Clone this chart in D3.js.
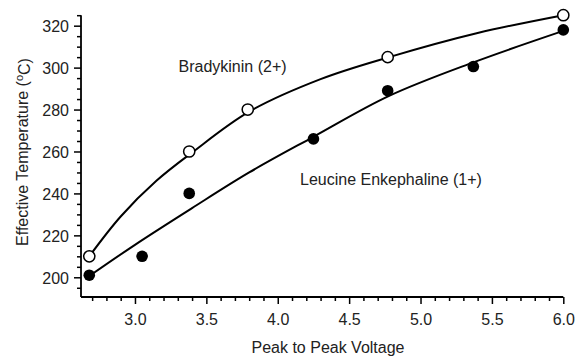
<!DOCTYPE html>
<html>
<head>
<meta charset="utf-8">
<script src="https://cdn.jsdelivr.net/npm/d3@7"></script>
<style>
  html, body { margin: 0; padding: 0; background: #fff; }
  svg { display: block; }
  text { font-family: "Liberation Sans", Arial, Helvetica, sans-serif; fill: #222; }
</style>
</head>
<body>
<svg id="chart" width="578" height="358"></svg>
<script>
// ---- data ----
const bradyVoltage = [2.68, 3.38, 3.79, 4.77, 6.0];
const bradyTemp    = [210, 260, 280, 305, 325];
const leuVoltage   = [2.68, 3.05, 3.38, 4.25, 4.77, 5.37, 6.0];
const leuTemp      = [201, 210, 240, 266, 289, 300.5, 318];

// fitted curves
const bradyFitVoltage = [2.68, 2.9, 3.15, 3.4, 3.8, 4.3, 4.78, 5.4, 6.0];
const bradyFitTemp    = [210, 229, 246, 259.5, 279, 294.5, 305, 316.5, 325];
const leuFitVoltage   = [2.68, 3.0, 3.4, 3.8, 4.25, 4.78, 5.37, 6.0];
const leuFitTemp      = [200.6, 215.5, 233, 250, 267, 286.5, 302.5, 317.5];

const xMajorTicks = [3.0, 3.5, 4.0, 4.5, 5.0, 5.5, 6.0];
const xTickLabels = ["3.0", "3.5", "4.0", "4.5", "5.0", "5.5", "6.0"];
const xMinorTicks = [2.7, 2.8, 2.9, 3.1, 3.2, 3.3, 3.4, 3.6, 3.7, 3.8, 3.9, 4.1, 4.2, 4.3, 4.4,
                     4.6, 4.7, 4.8, 4.9, 5.1, 5.2, 5.3, 5.4, 5.6, 5.7, 5.8, 5.9];
const yMajorTicks = [200, 220, 240, 260, 280, 300, 320];
const yTickLabels = ["200", "220", "240", "260", "280", "300", "320"];
const yMinorTicks = [195, 205, 210, 215, 225, 230, 235, 245, 250, 255, 265, 270, 275,
                     285, 290, 295, 305, 310, 315, 325];

const xTitle = "Peak to Peak Voltage";
const yTitle = "Effective Temperature (";
const seriesLabels = ["Bradykinin (2+)", "Leucine Enkephaline (1+)"];

// ---- layout ----
const svg = d3.select("#chart");
const plotLeft = 81, plotRight = 563.3, plotTop = 15.2, plotBottom = 297;

const x = d3.scaleLinear().domain([2.622, 6.0]).range([plotLeft, plotRight]);
const y = d3.scaleLinear().domain([190.6, 325]).range([plotBottom, plotTop]);

// minor ticks
svg.append("g").attr("transform", `translate(0,${plotBottom})`)
  .call(d3.axisBottom(x).tickValues(xMinorTicks).tickSize(4).tickFormat(""))
  .call(g => g.select(".domain").remove())
  .call(g => g.selectAll("line").attr("stroke", "#000").attr("stroke-width", 1.5));
svg.append("g").attr("transform", `translate(${plotLeft},0)`)
  .call(d3.axisLeft(y).tickValues(yMinorTicks).tickSize(4).tickFormat(""))
  .call(g => g.select(".domain").remove())
  .call(g => g.selectAll("line").attr("stroke", "#000").attr("stroke-width", 1.5));

// major axes
const xAxis = svg.append("g").attr("transform", `translate(0,${plotBottom})`)
  .call(d3.axisBottom(x).tickValues(xMajorTicks).tickSize(7).tickSizeOuter(0)
        .tickFormat((d, i) => xTickLabels[i]));
xAxis.select(".domain").attr("d", `M${plotLeft},0H${plotRight}`).attr("stroke", "#000").attr("stroke-width", 1.8);
xAxis.selectAll(".tick line").attr("stroke", "#000").attr("stroke-width", 1.5);
xAxis.selectAll(".tick text").attr("y", 28).attr("dy", 0)
  .style("font-size", "16px").style("font-family", "'Liberation Sans', Arial, sans-serif").attr("fill", "#222");

const yAxis = svg.append("g").attr("transform", `translate(${plotLeft},0)`)
  .call(d3.axisLeft(y).tickValues(yMajorTicks).tickSize(7).tickSizeOuter(0)
        .tickFormat((d, i) => yTickLabels[i]));
yAxis.select(".domain").attr("d", `M0,${plotTop}V${plotBottom}`).attr("stroke", "#000").attr("stroke-width", 1.8);
yAxis.selectAll(".tick line").attr("stroke", "#000").attr("stroke-width", 1.5);
yAxis.selectAll(".tick text").attr("x", -12).attr("dy", "0.36em")
  .style("font-size", "16px").style("font-family", "'Liberation Sans', Arial, sans-serif").attr("fill", "#222");

// fitted curves
const line = d3.line().x(d => x(d[0])).y(d => y(d[1])).curve(d3.curveCatmullRom.alpha(0.5));
svg.append("path").datum(d3.zip(bradyFitVoltage, bradyFitTemp))
  .attr("d", line).attr("fill", "none").attr("stroke", "#000").attr("stroke-width", 2);
svg.append("path").datum(d3.zip(leuFitVoltage, leuFitTemp))
  .attr("d", line).attr("fill", "none").attr("stroke", "#000").attr("stroke-width", 2);

// markers
svg.append("g").selectAll("circle").data(d3.zip(leuVoltage, leuTemp)).join("circle")
  .attr("cx", d => x(d[0])).attr("cy", d => y(d[1])).attr("r", 5.8)
  .attr("fill", "#000");
svg.append("g").selectAll("circle").data(d3.zip(bradyVoltage, bradyTemp)).join("circle")
  .attr("cx", d => x(d[0])).attr("cy", d => y(d[1])).attr("r", 5.6)
  .attr("fill", "#fff").attr("stroke", "#000").attr("stroke-width", 1.5);

// series labels
svg.append("text").attr("x", 178.5).attr("y", 72).style("font-size", "16px").text(seriesLabels[0]);
svg.append("text").attr("x", 300).attr("y", 185).style("font-size", "16px").text(seriesLabels[1]);

// axis titles
svg.append("text").attr("x", 328).attr("y", 353).attr("text-anchor", "middle")
  .style("font-size", "16px").text(xTitle);

const yt = svg.append("text")
  .attr("transform", "translate(28,152) rotate(-90)")
  .attr("text-anchor", "middle").style("font-size", "16px");
yt.append("tspan").text(yTitle);
yt.append("tspan").attr("dy", "-0.45em").style("font-size", "11px").text("o");
yt.append("tspan").attr("dy", "0.45em").text("C)");
</script>
</body>
</html>
